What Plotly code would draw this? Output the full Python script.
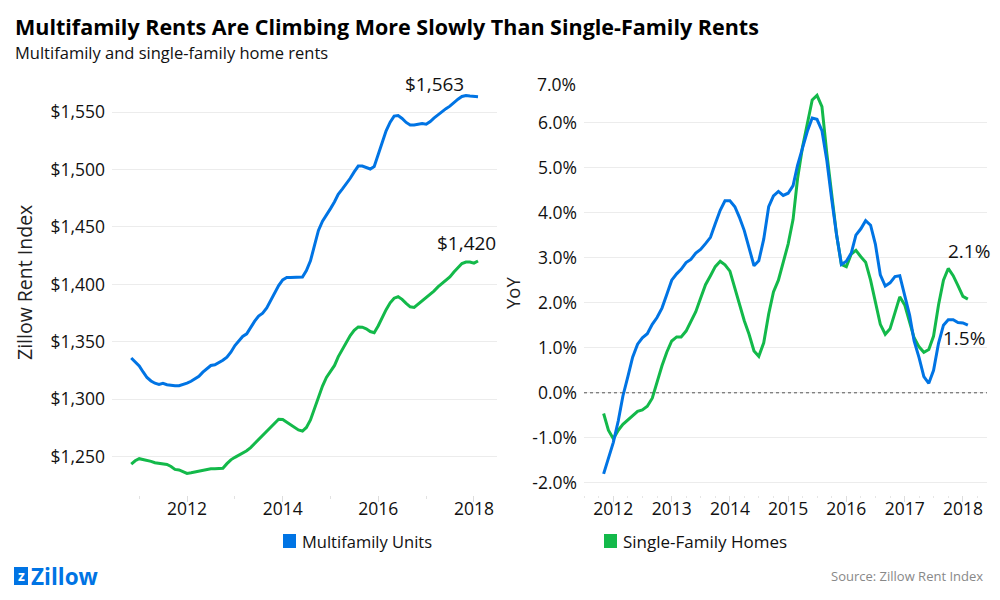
import pandas as pd
import plotly.graph_objects as go

# ---------------- data ----------------
level_months = pd.date_range("2010-11-01", "2018-02-01", freq="MS")
yoy_months = pd.date_range("2011-11-01", "2018-02-01", freq="MS")

multifamily_rent = [
    1336, 1332.6, 1329, 1323.6, 1319, 1316, 1314, 1313, 1314, 1312.7, 1312, 1311.8, 1311.8, 1312.7,
    1314, 1315.7, 1317.8, 1320, 1323.6, 1326.8, 1329.4, 1330, 1331.7, 1334, 1336.7, 1341, 1346.8, 1351, 1354.7,
    1357, 1362.6, 1368, 1372.5, 1375, 1379.5, 1386, 1392, 1399, 1404, 1406, 1406, 1406, 1406, 1406.5,
    1412, 1420.5, 1434, 1447, 1455, 1460, 1466, 1472, 1478.5, 1483, 1487.4, 1492.4, 1498, 1503, 1503,
    1501.7, 1500.5, 1502.6, 1512.8, 1523, 1533.7, 1541.3, 1546.5, 1547, 1544.5, 1541, 1538.7, 1538.7, 1539.2,
    1540, 1539.4, 1541.8, 1544.8, 1547.7, 1550, 1553, 1555.2, 1558.4, 1561.3, 1563.6, 1564.5, 1564, 1563.7, 1563.4,
]
single_family_rent = [
    1243.6, 1246.5, 1248.3, 1247.6, 1247, 1246, 1244.8, 1244.4, 1244.2, 1243.3, 1241.5, 1239, 1238.5, 1237.2,
    1235.5, 1236, 1236.7, 1237, 1238, 1239, 1239.5, 1239.5, 1239.6, 1240, 1244, 1247.3, 1249.5, 1251.5, 1253.2,
    1255.2, 1258, 1261.5, 1264.5, 1268, 1271.6, 1275, 1278.5, 1282.6, 1282.4, 1280, 1277.4, 1275, 1273.3, 1272.4,
    1275.5, 1282, 1292, 1303, 1311.5, 1319, 1324.5, 1329.5, 1337, 1343.5, 1349.5, 1355.5, 1360, 1363, 1362.8,
    1361.4, 1359, 1358, 1364, 1371.5, 1378, 1384, 1388, 1389.3, 1387, 1383.5, 1380.5, 1380, 1382.8,
    1386, 1388.6, 1391.5, 1394.2, 1397.8, 1400.8, 1403.7, 1406.6, 1410.8, 1415, 1418.2, 1419.5, 1419.5, 1418.5, 1420.4,
]
multifamily_yoy = [
    -1.8, -1.45, -1.1, -0.62, -0.07, 0.36, 0.79, 1.08, 1.22, 1.31, 1.52, 1.67, 1.88, 2.18, 2.5, 2.64, 2.74,
    2.89, 2.96, 3.1, 3.18, 3.31, 3.45, 3.75, 4.05,
    4.26, 4.26, 4.13, 3.9, 3.6, 3.24, 2.82, 2.93, 3.41, 4.13, 4.37, 4.47, 4.38, 4.43, 4.6, 5.05, 5.45, 5.8,
    6.1, 6.07, 5.82, 5.15, 4.3, 3.5, 2.85, 2.92,
    3.1, 3.5, 3.64, 3.82, 3.72, 3.3, 2.62, 2.37, 2.44, 2.58, 2.6, 2.15, 1.72, 1.15, 0.78, 0.36, 0.21, 0.5,
    1.1, 1.5, 1.62, 1.62, 1.56, 1.55, 1.5,
]
single_family_yoy = [
    -0.46, -0.83, -1.02, -0.83, -0.7, -0.6, -0.49, -0.41, -0.38, -0.3, -0.12, 0.24, 0.6, 0.9, 1.15, 1.24, 1.24,
    1.37, 1.57, 1.8, 2.1, 2.4, 2.6, 2.8, 2.92,
    2.84, 2.7, 2.3, 1.95, 1.6, 1.3, 0.93, 0.81, 1.11, 1.75, 2.24, 2.5, 2.9, 3.3, 3.85, 4.75, 5.45, 6.0,
    6.5, 6.6, 6.35, 5.3, 4.4, 3.5, 2.85, 2.8,
    3.08, 3.16, 3.02, 2.9, 2.5, 2.0, 1.52, 1.3, 1.42, 1.78, 2.13, 1.95, 1.56, 1.22, 1.02, 0.9, 0.96, 1.26,
    1.95, 2.5, 2.76, 2.6, 2.38, 2.14, 2.08,
]

series_names = ["Multifamily Units", "Single-Family Homes"]
left_tickvals = [1250, 1300, 1350, 1400, 1450, 1500, 1550]
right_tickvals = [-2, -1, 0, 1, 2, 3, 4, 5, 6, 7]

# ---------------- style ----------------
BLUE = "#0074E4"
GREEN = "#13B94A"
FONT = "Open Sans"
GRID = "#ECECEC"
TXT = "#111111"

# page-position correction (page body offset of the rendered figure)
OX, SX, OY, SY = 8.0, 1.0, 8.0, 1.0


def fx(px):
    return ((px - OX) / SX) / 1000.0


def fy(py):
    return 1.0 - ((py - OY) / SY) / 600.0


fig = go.Figure()
fig.add_trace(go.Scatter(x=level_months, y=multifamily_rent, mode="lines", name=series_names[0],
                         line=dict(color=BLUE, width=3), xaxis="x", yaxis="y", showlegend=False))
fig.add_trace(go.Scatter(x=level_months, y=single_family_rent, mode="lines", name=series_names[1],
                         line=dict(color=GREEN, width=3), xaxis="x", yaxis="y", showlegend=False))
fig.add_trace(go.Scatter(x=yoy_months, y=single_family_yoy, mode="lines", name=series_names[1],
                         line=dict(color=GREEN, width=3), xaxis="x2", yaxis="y2", showlegend=False))
fig.add_trace(go.Scatter(x=yoy_months, y=multifamily_yoy, mode="lines", name=series_names[0],
                         line=dict(color=BLUE, width=3), xaxis="x2", yaxis="y2", showlegend=False))

ydom = [fy(495), fy(76.5)]
tickfont = dict(family=FONT, size=17.5, color=TXT)
right_ticktext = [f"{v:.1f}%" for v in right_tickvals]
right_ticktext[-1] = ""  # top label is drawn slightly below its gridline (as in the original)

fig.update_layout(
    width=1000, height=600,
    margin=dict(l=0, r=0, t=0, b=0),
    paper_bgcolor="white", plot_bgcolor="white",
    font=dict(family=FONT, color=TXT),
    xaxis=dict(domain=[fx(112), fx(497)], type="date",
               range=["2010-06-07", "2018-06-26"],
               tick0="2012-01-01", dtick="M24", tickformat="%Y",
               ticks="outside", ticklen=6, tickcolor="#DDDDDD", showgrid=False,
               showline=False, zeroline=False, tickfont=tickfont, ticklabelstandoff=-8,
               minor=dict(dtick="M12", tick0="2011-01-01", ticks="outside", ticklen=3,
                          tickcolor="#E2E2E2", showgrid=False)),
    yaxis=dict(domain=ydom, range=[1216.7, 1581], anchor="x",
               tickvals=left_tickvals,
               ticktext=[f"${v:,}" for v in left_tickvals],
               showgrid=True, gridcolor=GRID, gridwidth=1, zeroline=False,
               showline=False, ticks="", tickfont=tickfont, ticklabelstandoff=6),
    xaxis2=dict(domain=[fx(584), fx(987)], type="date", anchor="y2",
                range=["2011-07-01", "2018-06-01"],
                tick0="2012-01-01", dtick="M12", tickformat="%Y",
                ticks="outside", ticklen=6, tickcolor="#DDDDDD", showgrid=False,
                showline=False, zeroline=False, tickfont=tickfont, ticklabelstandoff=-8,
                minor=dict(dtick="M3", ticks="outside", ticklen=2,
                           tickcolor="#E6E6E6", showgrid=False)),
    yaxis2=dict(domain=ydom, range=[-2.268, 7.02], anchor="x2",
                tickvals=right_tickvals,
                ticktext=right_ticktext,
                showgrid=True, gridcolor=GRID, gridwidth=1, zeroline=False,
                showline=False, ticks="", tickfont=tickfont, ticklabelstandoff=6),
)

# zero line (dotted)
fig.add_shape(type="line", xref="x2 domain", yref="y2", x0=0, x1=1, y0=0, y1=0,
              line=dict(color="#555555", width=1, dash="dot"))

ann = []
# title & subtitle
ann.append(dict(text="<b>Multifamily Rents Are Climbing More Slowly Than Single-Family Rents</b>",
                xref="paper", yref="paper", x=fx(14), y=fy(26.5), xanchor="left", yanchor="middle",
                showarrow=False, borderpad=0,
                font=dict(family=FONT, size=21.5, color="#000000")))
ann.append(dict(text="Multifamily and single-family home rents",
                xref="paper", yref="paper", x=fx(14), y=fy(53), xanchor="left", yanchor="middle",
                showarrow=False, borderpad=0,
                font=dict(family=FONT, size=16.5, color="#111111")))
# axis titles
ann.append(dict(text="Zillow Rent Index", xref="paper", yref="paper", x=fx(25), y=fy(283),
                xanchor="center", yanchor="middle", textangle=-90, showarrow=False,
                font=dict(family=FONT, size=19.5, color="#222222")))
ann.append(dict(text="YoY", xref="paper", yref="paper", x=fx(512), y=fy(293),
                xanchor="center", yanchor="middle", textangle=-90, showarrow=False,
                font=dict(family=FONT, size=18.5, color="#222222")))
# top right tick label
ann.append(dict(text=f"{right_tickvals[-1]:.1f}%", xref="paper", yref="paper", x=fx(578), y=fy(84),
                xanchor="right", yanchor="middle", showarrow=False,
                font=dict(family=FONT, size=17.5, color=TXT)))
# end labels
ann.append(dict(text=f"${round(multifamily_rent[-1]):,}", x=level_months[-1], y=multifamily_rent[-1],
                xref="x", yref="y", xanchor="right", yanchor="bottom", xshift=-12, yshift=-2,
                showarrow=False, font=dict(family=FONT, size=19, color=TXT)))
ann.append(dict(text=f"${round(single_family_rent[-1]):,}", x=level_months[-1], y=single_family_rent[-1],
                xref="x", yref="y", xanchor="center", yanchor="bottom", xshift=-12, yshift=3,
                showarrow=False, font=dict(family=FONT, size=19, color=TXT)))
ann.append(dict(text=f"{single_family_yoy[-1]:.1f}%", x=yoy_months[-1], y=single_family_yoy[-1],
                xref="x2", yref="y2", xanchor="center", yanchor="bottom", xshift=1, yshift=33,
                showarrow=False, font=dict(family=FONT, size=19, color=TXT)))
ann.append(dict(text=f"{multifamily_yoy[-1]:.1f}%", x=yoy_months[-1], y=multifamily_yoy[-1],
                xref="x2", yref="y2", xanchor="center", yanchor="top", xshift=-4, yshift=2,
                showarrow=False, font=dict(family=FONT, size=19, color=TXT)))
# legends
ann.append(dict(text=series_names[0], xref="paper", yref="paper", x=fx(300), y=fy(541),
                xanchor="left", yanchor="middle", showarrow=False,
                font=dict(family=FONT, size=16.5, color=TXT)))
ann.append(dict(text=series_names[1], xref="paper", yref="paper", x=fx(621), y=fy(541),
                xanchor="left", yanchor="middle", showarrow=False,
                font=dict(family=FONT, size=17, color=TXT)))
# logo + source
ann.append(dict(text="<b>Zillow</b>", xref="paper", yref="paper", x=fx(29), y=fy(576),
                xanchor="left", yanchor="middle", showarrow=False,
                font=dict(family=FONT, size=22.5, color=BLUE)))
ann.append(dict(text="<b>z</b>", xref="paper", yref="paper", x=fx(21), y=fy(575),
                xanchor="center", yanchor="middle", showarrow=False,
                font=dict(family=FONT, size=14, color="white")))
ann.append(dict(text="Source: Zillow Rent Index", xref="paper", yref="paper", x=fx(985), y=fy(576),
                xanchor="right", yanchor="middle", showarrow=False,
                font=dict(family=FONT, size=13, color="#888888")))
fig.update_layout(annotations=ann)

# legend swatches and logo box
fig.add_shape(type="rect", xref="paper", yref="paper", x0=fx(283), x1=fx(296),
              y0=fy(548), y1=fy(534), fillcolor=BLUE, line=dict(width=0), layer="below")
fig.add_shape(type="rect", xref="paper", yref="paper", x0=fx(604), x1=fx(617),
              y0=fy(548), y1=fy(534), fillcolor=GREEN, line=dict(width=0), layer="below")
fig.add_shape(type="rect", xref="paper", yref="paper", x0=fx(14), x1=fx(28),
              y0=fy(585), y1=fy(567), fillcolor=BLUE, line=dict(width=0), layer="below")

fig.write_html("out.html")
